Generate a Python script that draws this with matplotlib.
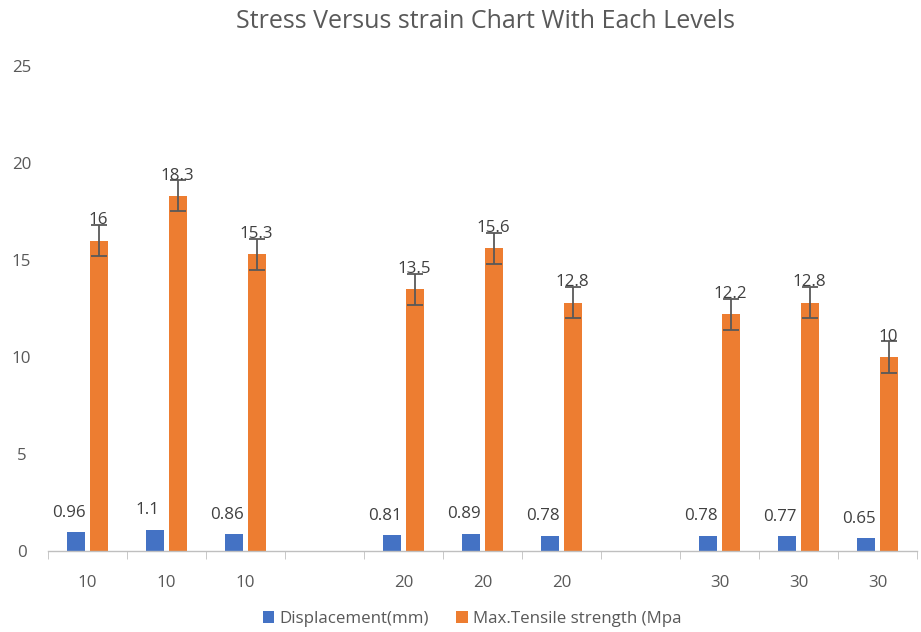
import matplotlib

matplotlib.use("Agg")
import matplotlib.pyplot as plt
import numpy as np

# Data (blank slots separate the three levels)
CATEGORIES = ["10", "10", "10", "", "20", "20", "20", "", "30", "30", "30"]
DISPLACEMENT = [0.96, 1.1, 0.86, None, 0.81, 0.89, 0.78, None, 0.78, 0.77, 0.65]
TENSILE = [16, 18.3, 15.3, None, 13.5, 15.6, 12.8, None, 12.2, 12.8, 10]
TENSILE_ERR = 0.8

BLUE = "#4472C4"
ORANGE = "#ED7D31"
GREY = "#595959"
FS = 12.2

plt.rcParams["font.family"] = ["Open Sans", "DejaVu Sans"]

fig = plt.figure(figsize=(9.21, 6.32), dpi=100)
ax = fig.add_axes([48 / 921, 1 - 551 / 632, 869 / 921, 485 / 632])

x = np.arange(len(CATEGORIES))
width = 0.228
offset = 0.14

for i in x:
    d, t = DISPLACEMENT[i], TENSILE[i]
    if d is None:
        continue
    ax.bar(i - offset, d, width, color=BLUE, zorder=2)
    ax.bar(i + offset, t, width, color=ORANGE, zorder=2)
    ax.errorbar(i + offset, t, yerr=TENSILE_ERR, fmt="none", ecolor=GREY,
                elinewidth=1.3, capsize=6, capthick=1.3, zorder=3)
    ax.text(i - offset - 0.1, d + 1.0, f"{d:g}", ha="center", va="center",
            fontsize=FS, color="#404040")
    ax.text(i + offset, t + 1.05, f"{t:g}", ha="center", va="center",
            fontsize=FS, color="#404040")

# Legend-only handles
ax.bar([np.nan], [np.nan], color=BLUE, label="Displacement(mm)")
ax.bar([np.nan], [np.nan], color=ORANGE, label="Max.Tensile strength (Mpa")

ax.set_xlim(-0.5, len(CATEGORIES) - 0.5)
ax.set_ylim(0, 25)
ax.set_yticks(np.arange(0, 26, 5))
ax.set_xticks(x)
ax.set_xticklabels(CATEGORIES)
ax.set_xticks(np.arange(-0.5, len(CATEGORIES), 1), minor=True)
ax.tick_params(axis="x", which="major", length=0, pad=17, labelsize=FS,
               labelcolor=GREY)
ax.tick_params(axis="x", which="minor", length=6, color="#BFBFBF", direction="out")
ax.tick_params(axis="y", length=0, pad=19, labelsize=FS, labelcolor=GREY)
for lbl in ax.get_yticklabels():
    lbl.set_horizontalalignment("center")

for side in ["top", "right", "left"]:
    ax.spines[side].set_visible(False)
ax.spines["bottom"].set_color("#BFBFBF")
ax.spines["bottom"].set_linewidth(1.0)

fig.text(485 / 921, 1 - 22 / 632, "Stress Versus strain Chart With Each Levels",
         ha="center", va="center", fontsize=18, color=GREY)

fig.legend(loc="center", bbox_to_anchor=(472 / 921, 1 - 619 / 632), ncol=2,
           frameon=False, fontsize=FS, handlelength=0.7, handleheight=0.7,
           handletextpad=0.3, columnspacing=1.6, labelcolor=GREY)

fig.savefig("out.png", dpi=100)
